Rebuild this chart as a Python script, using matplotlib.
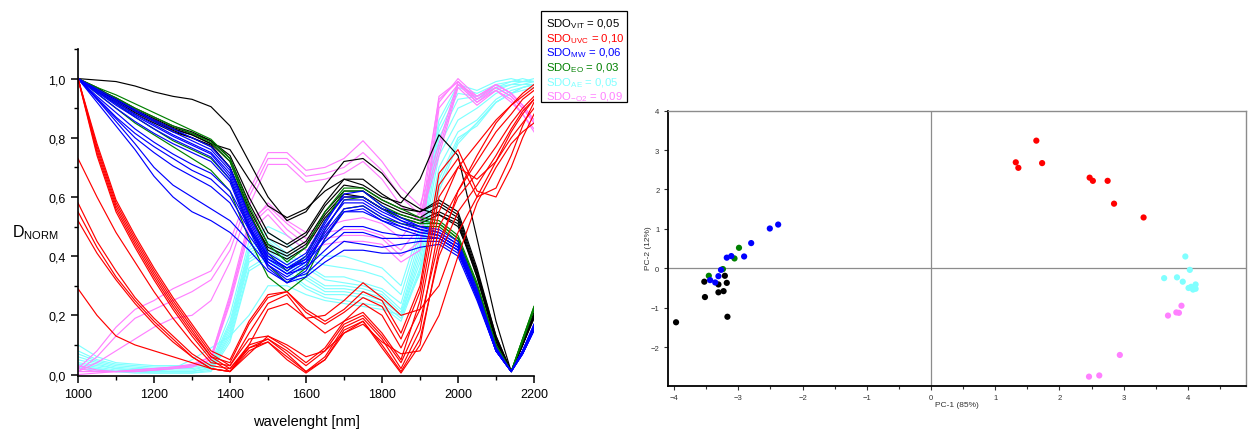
import matplotlib
matplotlib.use("Agg")
import matplotlib.pyplot as plt
from matplotlib.ticker import MultipleLocator, FuncFormatter
from matplotlib.patches import Rectangle

plt.rcParams['font.family'] = ['Liberation Sans', 'DejaVu Sans']
plt.rcParams['mathtext.default'] = 'regular'

# ---------------------------------------------------------------- spectra
wavelength = [1000, 1050, 1100, 1150, 1200, 1250, 1300, 1350, 1400, 1450, 1500, 1550, 1600,
              1650, 1700, 1750, 1800, 1850, 1900, 1950, 2000, 2050, 2100, 2140, 2170, 2200]

spectra_vit = [
    [1.0, .995, .99, .975, .955, .94, .93, .905, .84, .72, .60, .52, .55, .64, .72, .73, .68, .60, .56, .54, .50, .35, .13, .01, .10, .20],
    [1.0, .97, .93, .89, .86, .83, .81, .78, .76, .66, .57, .53, .56, .62, .66, .64, .60, .58, .66, .81, .74, .46, .18, .01, .11, .21],
    [1.0, .965, .935, .90, .87, .84, .82, .79, .74, .60, .48, .44, .48, .58, .66, .66, .61, .57, .55, .59, .55, .36, .13, .01, .10, .20],
    [1.0, .96, .93, .89, .86, .83, .81, .78, .72, .56, .44, .41, .45, .55, .62, .62, .58, .55, .53, .57, .53, .34, .12, .01, .10, .20],
    [1.0, .955, .925, .885, .855, .825, .80, .775, .70, .54, .43, .40, .44, .54, .61, .60, .56, .54, .52, .55, .52, .33, .11, .01, .10, .19],
    [1.0, .96, .93, .895, .865, .835, .815, .79, .73, .58, .46, .43, .47, .57, .64, .63, .59, .56, .55, .58, .54, .35, .12, .01, .10, .20],
    [1.0, .955, .92, .88, .85, .82, .80, .77, .70, .55, .42, .39, .43, .53, .60, .60, .56, .53, .51, .54, .51, .33, .11, .01, .10, .19],
]

spectra_eo = [
    [1.0, .97, .945, .915, .885, .855, .825, .795, .73, .57, .44, .38, .43, .55, .63, .63, .59, .56, .53, .52, .47, .31, .10, .01, .12, .23],
    [1.0, .965, .935, .90, .87, .84, .815, .785, .72, .55, .41, .35, .40, .52, .62, .62, .57, .54, .52, .51, .46, .30, .10, .01, .12, .23],
    [1.0, .95, .90, .85, .81, .77, .73, .69, .62, .46, .33, .28, .33, .46, .56, .57, .53, .51, .50, .50, .45, .29, .09, .01, .11, .22],
    [1.0, .955, .915, .87, .83, .79, .76, .73, .66, .50, .37, .31, .36, .49, .59, .60, .56, .53, .51, .51, .46, .30, .10, .01, .12, .22],
]

spectra_mw = [
    [1.0, .965, .93, .895, .86, .83, .80, .77, .70, .54, .41, .37, .41, .52, .60, .60, .56, .52, .50, .49, .45, .29, .09, .01, .08, .17],
    [1.0, .96, .92, .88, .845, .81, .78, .75, .68, .52, .39, .35, .39, .50, .58, .58, .54, .51, .49, .48, .44, .28, .09, .01, .08, .16],
    [1.0, .955, .91, .87, .83, .795, .765, .735, .66, .50, .37, .33, .37, .48, .56, .57, .53, .50, .48, .47, .43, .27, .08, .01, .08, .16],
    [1.0, .95, .90, .855, .815, .78, .75, .72, .65, .49, .36, .31, .35, .46, .55, .56, .52, .49, .47, .46, .42, .26, .08, .01, .07, .15],
    [1.0, .96, .925, .89, .855, .82, .79, .76, .69, .53, .40, .36, .40, .51, .61, .62, .57, .53, .50, .48, .44, .28, .09, .01, .08, .17],
    [1.0, .955, .915, .875, .84, .805, .775, .745, .67, .51, .38, .34, .38, .49, .59, .59, .55, .52, .49, .47, .43, .27, .08, .01, .08, .16],
    [1.0, .94, .885, .83, .785, .745, .71, .68, .62, .50, .40, .36, .39, .47, .55, .55, .52, .50, .48, .47, .43, .27, .08, .01, .08, .16],
    [1.0, .935, .87, .815, .77, .73, .69, .66, .60, .49, .39, .36, .38, .45, .50, .50, .48, .47, .47, .46, .42, .26, .08, .01, .07, .15],
    [1.0, .93, .865, .80, .75, .705, .67, .635, .58, .47, .38, .34, .36, .42, .48, .48, .46, .46, .46, .46, .42, .26, .08, .01, .07, .15],
    [1.0, .92, .84, .76, .67, .60, .55, .52, .48, .42, .35, .31, .33, .38, .42, .42, .41, .41, .43, .44, .40, .25, .08, .01, .07, .15],
    [1.0, .93, .855, .78, .70, .64, .60, .56, .52, .45, .37, .32, .34, .40, .45, .44, .43, .44, .45, .45, .41, .26, .08, .01, .07, .15],
]

spectra_uvc = [
    [1.0, .75, .56, .44, .33, .23, .14, .06, .02, .10, .12, .07, .01, .06, .16, .19, .12, .02, .15, .50, .62, .72, .82, .88, .93, .96],
    [1.0, .77, .58, .46, .35, .25, .16, .07, .03, .12, .13, .09, .04, .09, .18, .21, .14, .05, .25, .60, .70, .78, .86, .91, .94, .97],
    [1.0, .76, .57, .45, .34, .24, .15, .06, .04, .17, .26, .28, .22, .18, .22, .28, .25, .14, .30, .68, .76, .62, .60, .70, .80, .88],
    [1.0, .78, .59, .47, .36, .26, .17, .08, .05, .18, .27, .28, .21, .17, .21, .26, .23, .12, .28, .64, .73, .60, .63, .74, .84, .92],
    [1.0, .74, .55, .43, .32, .22, .13, .05, .01, .09, .11, .05, .005, .05, .14, .18, .09, .005, .10, .42, .62, .74, .85, .91, .95, .98],
    [.73, .60, .48, .38, .28, .19, .11, .04, .03, .14, .24, .27, .19, .14, .18, .24, .20, .09, .22, .55, .70, .66, .72, .82, .88, .93],
    [.58, .45, .35, .26, .19, .13, .07, .03, .02, .09, .12, .08, .03, .08, .17, .20, .13, .04, .18, .45, .60, .68, .77, .85, .90, .94],
    [.55, .43, .33, .25, .18, .12, .06, .02, .01, .08, .11, .06, .01, .05, .15, .18, .10, .01, .12, .40, .55, .64, .74, .83, .89, .93],
    [.52, .41, .32, .24, .17, .11, .06, .02, .01, .10, .22, .24, .19, .20, .25, .31, .26, .20, .22, .30, .48, .60, .72, .80, .85, .90],
    [.29, .20, .13, .10, .08, .06, .04, .02, .01, .07, .13, .10, .06, .08, .14, .17, .11, .07, .08, .20, .40, .58, .70, .78, .82, .85],
]

spectra_ae = [
    [.10, .06, .04, .035, .03, .03, .03, .04, .20, .45, .50, .47, .42, .40, .40, .38, .36, .30, .50, .86, .98, .96, .99, 1.0, .99, 1.0],
    [.08, .05, .035, .03, .025, .025, .025, .035, .18, .43, .48, .44, .39, .37, .36, .35, .33, .27, .48, .84, .97, .95, .98, .99, 1.0, .99],
    [.07, .045, .03, .025, .02, .02, .02, .03, .17, .42, .46, .41, .37, .33, .33, .31, .29, .24, .46, .82, .95, .94, .97, .99, .99, .99],
    [.06, .04, .025, .02, .02, .015, .015, .03, .16, .41, .45, .40, .36, .32, .31, .30, .28, .22, .44, .80, .93, .94, .97, .98, .99, .99],
    [.05, .035, .02, .015, .015, .01, .01, .025, .15, .40, .44, .39, .34, .30, .30, .29, .27, .21, .42, .77, .90, .93, .96, .98, .98, .99],
    [.04, .03, .02, .015, .01, .01, .01, .02, .14, .39, .43, .38, .33, .29, .29, .28, .26, .20, .40, .74, .86, .90, .95, .97, .98, .98],
    [.035, .025, .015, .01, .01, .01, .01, .02, .13, .38, .42, .37, .32, .28, .28, .27, .25, .20, .38, .70, .82, .86, .93, .96, .97, .98],
    [.03, .02, .01, .01, .005, .005, .005, .015, .12, .36, .40, .35, .30, .27, .27, .26, .24, .19, .36, .66, .80, .84, .92, .95, .97, .98],
    [.02, .015, .01, .01, .01, .02, .05, .09, .13, .20, .30, .30, .27, .25, .24, .23, .22, .20, .34, .62, .78, .85, .92, .95, .96, .97],
    [.025, .02, .01, .005, .005, .005, .005, .01, .11, .35, .39, .34, .29, .26, .25, .24, .23, .18, .35, .64, .79, .85, .92, .95, .97, .98],
]

spectra_o2 = [
    [.02, .08, .16, .22, .25, .29, .32, .35, .45, .62, .75, .75, .69, .70, .73, .79, .72, .63, .57, .78, .99, .93, .98, .95, .91, .86],
    [.01, .06, .13, .19, .22, .25, .28, .32, .42, .60, .73, .73, .67, .68, .70, .75, .69, .60, .54, .76, .98, .92, .97, .94, .90, .85],
    [.01, .04, .08, .12, .16, .19, .20, .25, .38, .57, .71, .71, .65, .66, .68, .72, .66, .57, .52, .74, .97, .91, .96, .93, .88, .83],
    [.02, .01, .01, .015, .02, .025, .03, .05, .25, .50, .56, .49, .44, .46, .47, .47, .46, .40, .45, .92, 1.0, .94, .98, .95, .91, .86],
    [.03, .015, .01, .015, .02, .025, .035, .06, .27, .52, .57, .51, .46, .48, .49, .49, .47, .42, .50, .94, .99, .93, .97, .94, .90, .85],
    [.01, .01, .01, .01, .015, .02, .025, .05, .24, .48, .54, .47, .42, .44, .45, .45, .44, .38, .42, .90, .98, .94, .98, .95, .91, .86],
    [.0, .005, .01, .01, .015, .02, .03, .06, .26, .50, .58, .52, .48, .50, .52, .53, .51, .46, .55, .93, .99, .92, .96, .92, .88, .82],
]

# ---------------------------------------------------------------- PCA scores
pc_vit_x = [-3.97, -3.53, -3.52, -3.31, -3.31, -3.23, -3.21, -3.18, -3.17]
pc_vit_y = [-1.37, -0.34, -0.73, -0.41, -0.61, -0.58, -0.19, -0.37, -1.23]
pc_eo_x = [-3.46, -3.24, -3.06, -2.99]
pc_eo_y = [-0.19, -0.02, 0.25, 0.52]
pc_mw_x = [-3.44, -3.36, -3.31, -3.27, -3.18, -3.11, -2.91, -2.80, -2.51, -2.38]
pc_mw_y = [-0.30, -0.36, -0.20, -0.04, 0.27, 0.31, 0.30, 0.64, 1.01, 1.11]
pc_uvc_x = [1.64, 1.32, 1.36, 1.73, 2.47, 2.52, 2.75, 2.85, 3.31]
pc_uvc_y = [3.24, 2.69, 2.55, 2.67, 2.30, 2.22, 2.22, 1.64, 1.29]
pc_ae_x = [3.96, 4.03, 3.63, 3.83, 3.92, 4.12, 4.01, 4.05, 4.08, 4.12]
pc_ae_y = [0.30, -0.04, -0.25, -0.23, -0.34, -0.41, -0.50, -0.47, -0.54, -0.52]
pc_o2_x = [3.90, 3.82, 3.86, 3.69, 2.94, 2.62, 2.46]
pc_o2_y = [-0.95, -1.12, -1.13, -1.20, -2.20, -2.72, -2.75]

group_labels = [r'SDO$_{VIT}$ = 0,05', r'SDO$_{UVC}$ = 0,10', r'SDO$_{MW}$ = 0,06',
                r'SDO$_{EO}$ = 0,03', r'SDO$_{AE}$ = 0,05', r'SDO$_{-O2}$ = 0,09']

C_VIT, C_UVC, C_MW, C_EO, C_AE, C_O2 = '#000000', '#ff0000', '#0000ff', '#008000', '#80ffff', '#ff80ff'
group_colors = [C_VIT, C_UVC, C_MW, C_EO, C_AE, C_O2]

W, H = 1248, 431
fig = plt.figure(figsize=(W / 100, H / 100), dpi=100)

# ---------------------------------------------------------------- left: spectra
ax = fig.add_axes([78 / W, 1 - 377 / H, (534 - 78) / W, (377 - 50) / H])
for group, color in [(spectra_ae, C_AE), (spectra_o2, C_O2), (spectra_vit, C_VIT),
                     (spectra_eo, C_EO), (spectra_mw, C_MW), (spectra_uvc, C_UVC)]:
    for s in group:
        ax.plot(wavelength, s, color=color, lw=0.85, solid_joinstyle='round')

ax.set_xlim(1000, 2200)
ax.set_ylim(-0.005, 1.1)
for side in ('top', 'right'):
    ax.spines[side].set_visible(False)
for side in ('left', 'bottom'):
    ax.spines[side].set_linewidth(1.2)
ax.xaxis.set_major_locator(MultipleLocator(200))
ax.xaxis.set_minor_locator(MultipleLocator(100))
ax.yaxis.set_major_locator(MultipleLocator(0.2))
ax.yaxis.set_minor_locator(MultipleLocator(0.1))
ax.yaxis.set_major_formatter(FuncFormatter(lambda v, p: f'{v:.1f}'.replace('.', ',')))
ax.tick_params(which='major', direction='out', length=5, width=1.1, labelsize=9, pad=4)
ax.tick_params(which='minor', direction='out', length=3, width=1.0)
ax.set_xlabel('wavelenght [nm]', fontsize=10.5, labelpad=9.5)
fig.text(12 / W, 1 - 233 / H, r'D$_{NORM}$', fontsize=11.5, ha='left', va='center')

# legend box with coloured entries
fig.patches.append(Rectangle((541 / W, 1 - 103 / H), 86 / W, 91.5 / H, transform=fig.transFigure,
                             facecolor='white', edgecolor='black', lw=0.9, zorder=5))
for i, (label, color) in enumerate(zip(group_labels, group_colors)):
    fig.text(546 / W, 1 - (24.5 + 14.6 * i) / H, label, color=color, fontsize=8.2,
             ha='left', va='center', zorder=6)

# ---------------------------------------------------------------- right: PCA
bx = fig.add_axes([667.7 / W, 1 - 386.7 / H, (1245.7 - 667.7) / W, (386.7 - 111.7) / H])
bx.axhline(0, color='#8c8c8c', lw=0.9, zorder=1)
bx.axvline(0, color='#8c8c8c', lw=0.9, zorder=1)
for xs, ys, c in [(pc_vit_x, pc_vit_y, C_VIT), (pc_eo_x, pc_eo_y, C_EO), (pc_mw_x, pc_mw_y, C_MW),
                  (pc_uvc_x, pc_uvc_y, C_UVC), (pc_ae_x, pc_ae_y, C_AE), (pc_o2_x, pc_o2_y, C_O2)]:
    bx.scatter(xs, ys, s=20, color=c, edgecolors='none', zorder=3)
bx.set_xlim(-4.1, 4.9)
bx.set_ylim(-2.98, 4.0)
bx.xaxis.set_major_locator(MultipleLocator(1))
bx.xaxis.set_minor_locator(MultipleLocator(0.5))
bx.set_yticks([-2, -1, 0, 1, 2, 3, 4])
bx.spines['left'].set_linewidth(1.3)
bx.spines['bottom'].set_linewidth(1.3)
for side in ('top', 'right'):
    bx.spines[side].set_color('#8c8c8c')
    bx.spines[side].set_linewidth(1.0)
bx.tick_params(which='major', direction='out', length=3, width=0.8, labelsize=5.5,
               colors='#333333', pad=3)
bx.tick_params(which='minor', direction='out', length=2, width=0.8, colors='#333333')
bx.tick_params(axis='y', which='minor', left=False)
fig.text(935 / W, 1 - 406 / H, 'PC-1 (85%)', fontsize=6, color='#333333', ha='left', va='center')
fig.text(648 / W, 1 - 248 / H, 'PC-2 (12%)', fontsize=6, color='#333333', ha='center', va='center',
         rotation=90)

fig.savefig('out.png', dpi=100)
